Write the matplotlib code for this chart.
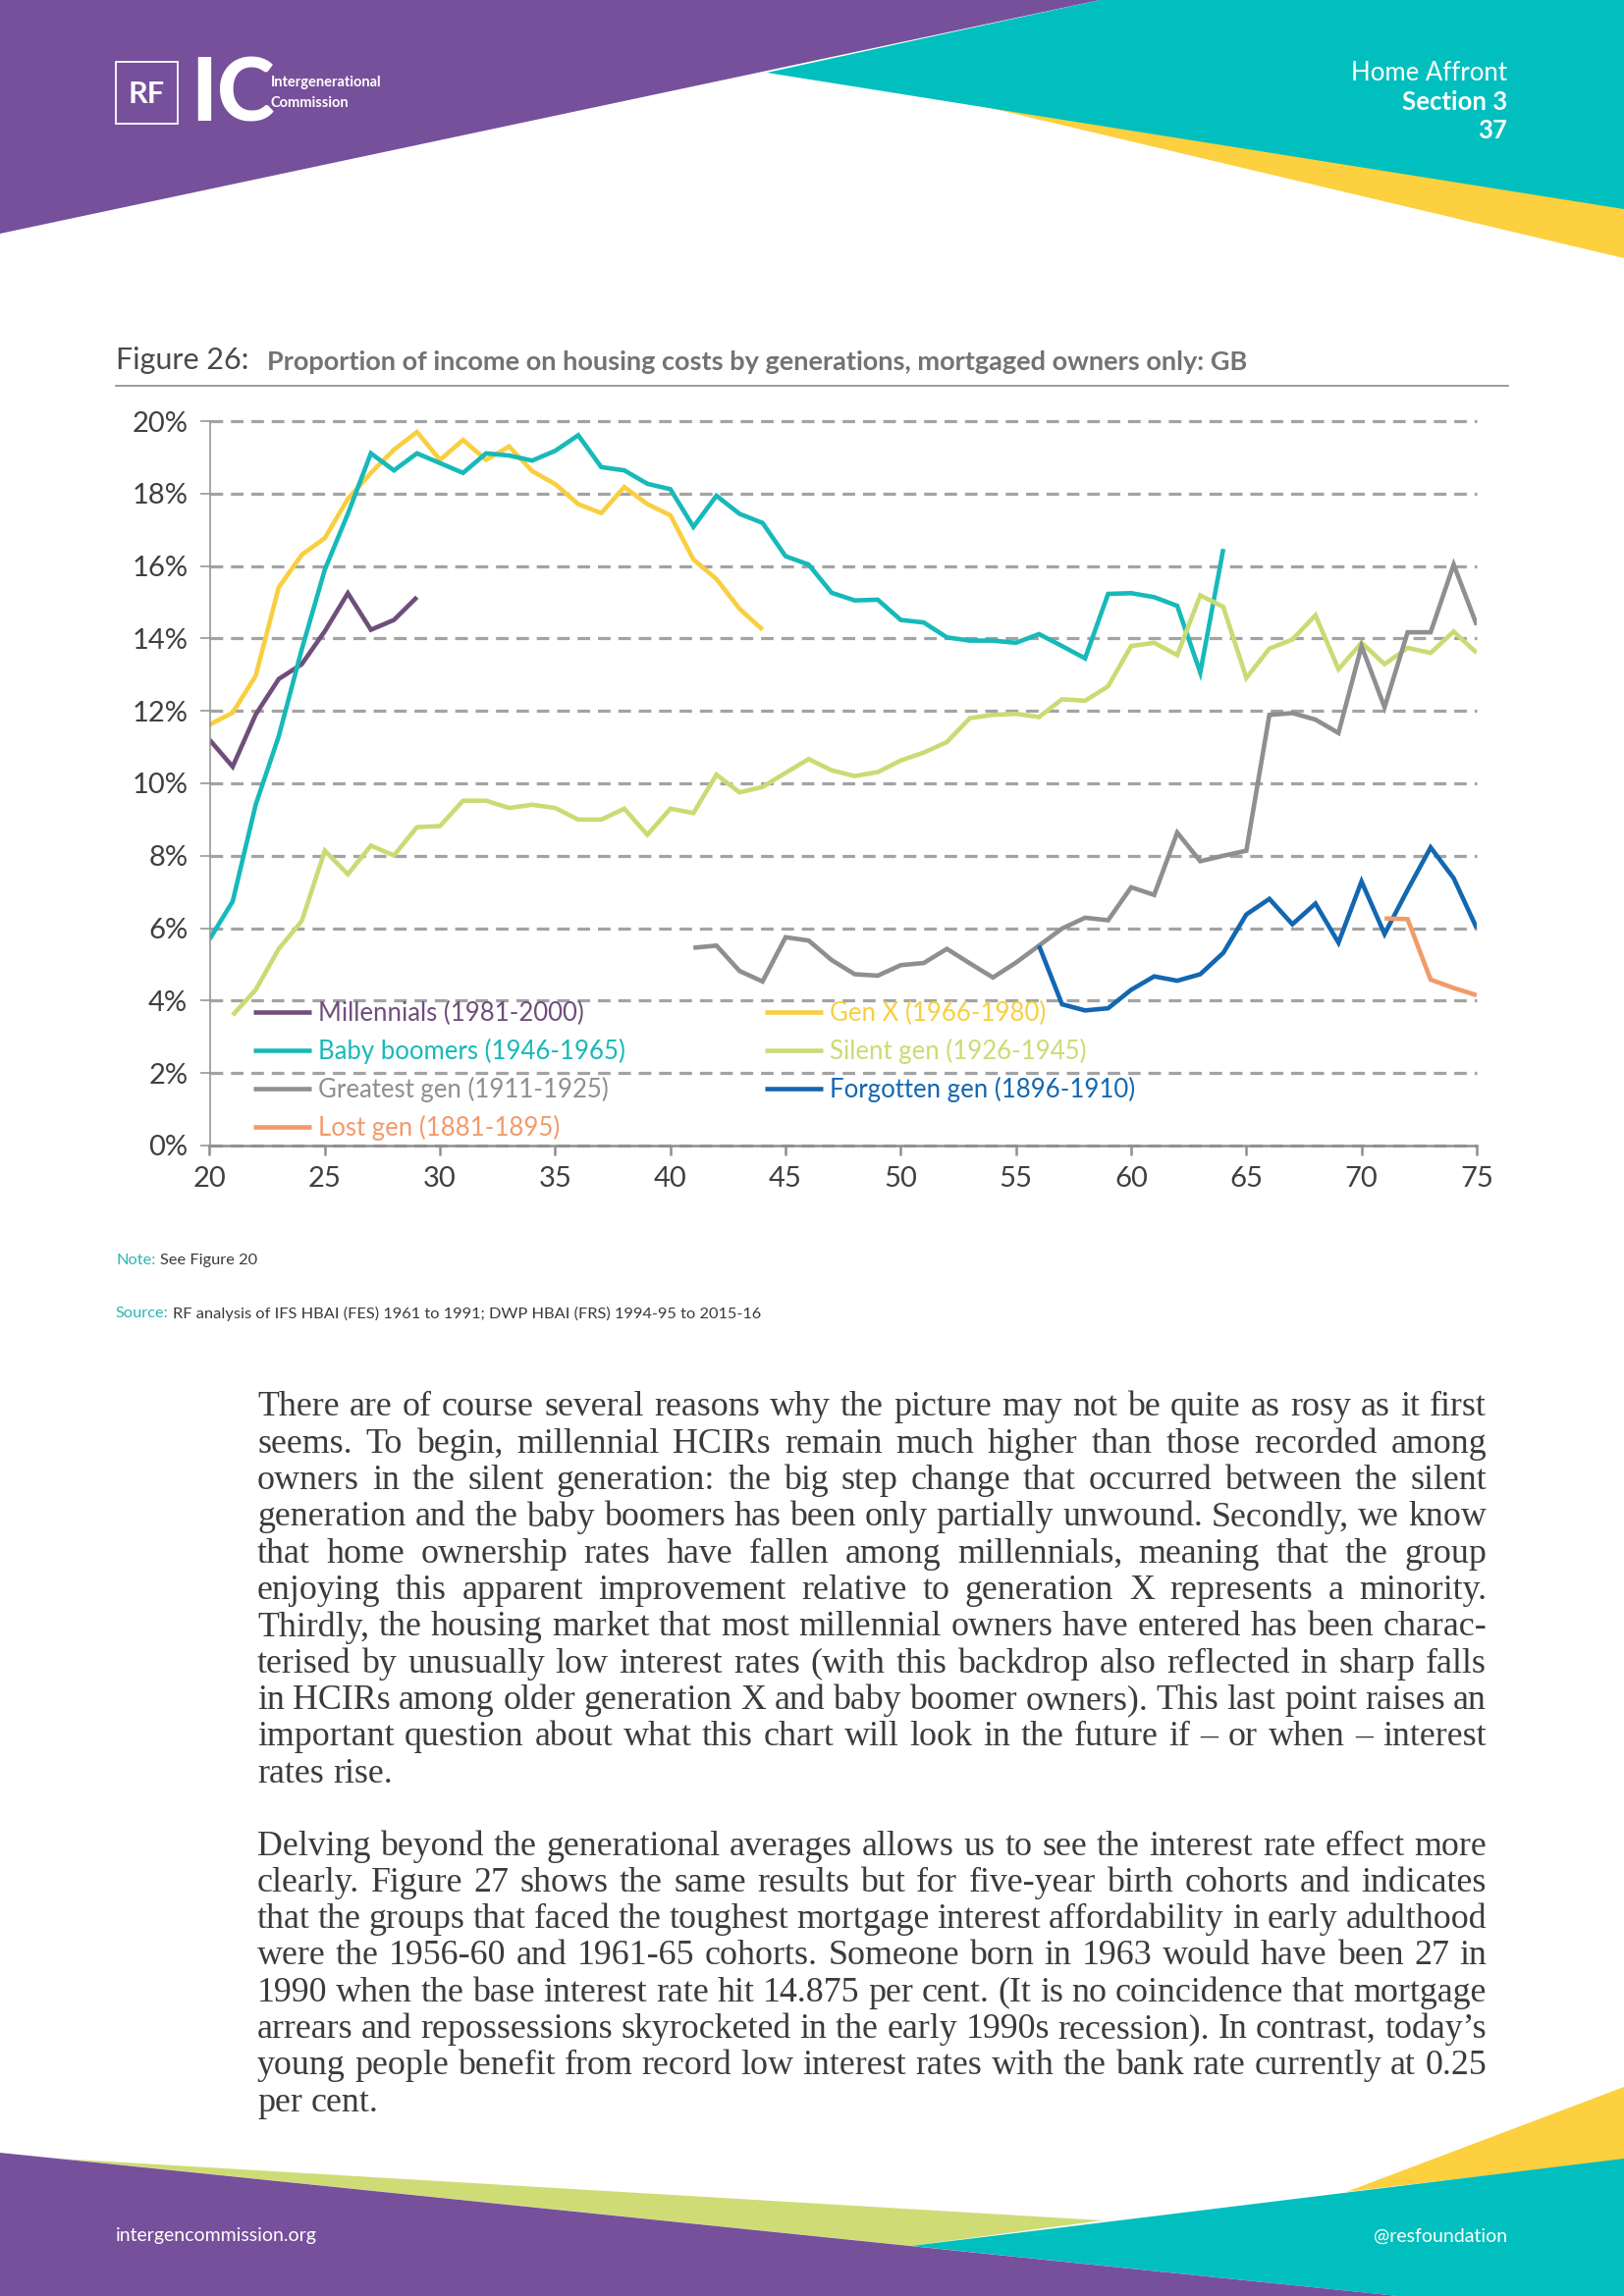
import matplotlib
matplotlib.use("Agg")
import matplotlib.pyplot as plt
from matplotlib.patches import Polygon, Rectangle

# ==========================
# DATA (share of income on housing costs, %)
# ==========================
millennials_age = list(range(20, 30))
millennials = [11.2, 10.46, 11.9, 12.88, 13.29, 14.2, 15.25, 14.24, 14.51, 15.14]

genx_age = list(range(20, 45))
genx = [11.62, 11.95, 12.97, 15.41, 16.31, 16.77, 17.85, 18.57, 19.21, 19.70,
        18.93, 19.48, 18.93, 19.30, 18.62, 18.26, 17.71, 17.46, 18.18, 17.71,
        17.40, 16.18, 15.64, 14.82, 14.24]

boomers_age = list(range(20, 65))
boomers = [5.70, 6.74, 9.41, 11.30, 13.70, 15.90, 17.44, 19.11, 18.64, 19.11,
           18.84, 18.57, 19.11, 19.05, 18.91, 19.18, 19.61, 18.73, 18.64, 18.27,
           18.12, 17.08, 17.94, 17.44, 17.19, 16.27, 16.04, 15.26, 15.05, 15.07,
           14.51, 14.44, 14.03, 13.94, 13.94, 13.88, 14.12, 13.79, 13.45, 15.23,
           15.25, 15.14, 14.90, 13.06, 16.47]

silent_age = list(range(21, 76))
silent = [3.60, 4.30, 5.43, 6.20, 8.14, 7.49, 8.28, 8.01, 8.79, 8.82,
          9.52, 9.52, 9.32, 9.41, 9.32, 9.00, 9.00, 9.30, 8.58, 9.30,
          9.18, 10.24, 9.75, 9.90, 10.29, 10.67, 10.36, 10.20, 10.31, 10.63,
          10.85, 11.14, 11.80, 11.89, 11.92, 11.83, 12.32, 12.28, 12.68, 13.79,
          13.88, 13.54, 15.19, 14.87, 12.91, 13.72, 13.97, 14.64, 13.15, 13.88,
          13.29, 13.74, 13.60, 14.19, 13.60]

greatest_age = list(range(41, 76))
greatest = [5.46, 5.52, 4.82, 4.53, 5.75, 5.66, 5.12, 4.73, 4.69, 4.98,
            5.04, 5.43, 5.03, 4.64, 5.05, 5.52, 5.99, 6.29, 6.22, 7.13,
            6.92, 8.64, 7.85, 8.00, 8.14, 11.89, 11.94, 11.76, 11.39, 13.79,
            12.10, 14.17, 14.17, 16.04, 14.37]

forgotten_age = list(range(56, 76))
forgotten = [5.52, 3.90, 3.73, 3.79, 4.30, 4.67, 4.55, 4.73, 5.32, 6.38,
             6.81, 6.11, 6.68, 5.60, 7.29, 5.84, 7.06, 8.23, 7.38, 6.00]

lost_age = list(range(71, 76))
lost = [6.27, 6.25, 4.58, 4.35, 4.15]

series = [
    ("Millennials (1981-2000)", millennials_age, millennials, "#6f4e7c"),
    ("Gen X (1966-1980)", genx_age, genx, "#f9cf3f"),
    ("Baby boomers (1946-1965)", boomers_age, boomers, "#17b9b9"),
    ("Silent gen (1926-1945)", silent_age, silent, "#c9dc74"),
    ("Greatest gen (1911-1925)", greatest_age, greatest, "#8e8f91"),
    ("Forgotten gen (1896-1910)", forgotten_age, forgotten, "#1367b1"),
    ("Lost gen (1881-1895)", lost_age, lost, "#f29a6a"),
]
col1 = ["Millennials (1981-2000)", "Baby boomers (1946-1965)",
        "Greatest gen (1911-1925)", "Lost gen (1881-1895)"]
col2 = ["Gen X (1966-1980)", "Silent gen (1926-1945)",
        "Forgotten gen (1896-1910)"]

x_ticks = [20, 25, 30, 35, 40, 45, 50, 55, 60, 65, 70, 75]
y_ticks = [0, 2, 4, 6, 8, 10, 12, 14, 16, 18, 20]

paragraph1 = [
    "There are of course several reasons why the picture may not be quite as rosy as it first",
    "seems. To begin, millennial HCIRs remain much higher than those recorded among",
    "owners in the silent generation: the big step change that occurred between the silent",
    "generation and the baby boomers has been only partially unwound. Secondly, we know",
    "that home ownership rates have fallen among millennials, meaning that the group",
    "enjoying this apparent improvement relative to generation X represents a minority.",
    "Thirdly, the housing market that most millennial owners have entered has been charac-",
    "terised by unusually low interest rates (with this backdrop also reflected in sharp falls",
    "in HCIRs among older generation X and baby boomer owners). This last point raises an",
    "important question about what this chart will look in the future if \u2013 or when \u2013 interest",
    "rates rise.",
]
paragraph2 = [
    "Delving beyond the generational averages allows us to see the interest rate effect more",
    "clearly. Figure 27 shows the same results but for five-year birth cohorts and indicates",
    "that the groups that faced the toughest mortgage interest affordability in early adulthood",
    "were the 1956-60 and 1961-65 cohorts. Someone born in 1963 would have been 27 in",
    "1990 when the base interest rate hit 14.875 per cent. (It is no coincidence that mortgage",
    "arrears and repossessions skyrocketed in the early 1990s recession). In contrast, today\u2019s",
    "young people benefit from record low interest rates with the bank rate currently at 0.25",
    "per cent.",
]

# ==========================
# PAGE
# ==========================
W, H = 1654, 2339
fig = plt.figure(figsize=(W / 100, H / 100), dpi=100)
plt.rcParams["font.family"] = ["Lato", "DejaVu Sans"]

PURPLE = "#77509b"
TEAL = "#00bfbe"
YELLOW = "#fcd03e"
LIME = "#cfdc76"

deco = fig.add_axes([0, 0, 1, 1], zorder=0)
deco.set_xlim(0, W)
deco.set_ylim(H, 0)
deco.axis("off")

# header shapes
deco.add_patch(Polygon([(1000, 108), (1654, 212), (1654, 263)], color=YELLOW, lw=0))
deco.add_patch(Polygon([(781, 74), (1120, 0), (1654, 0), (1654, 213)], color=TEAL, lw=0))
deco.add_patch(Polygon([(0, 0), (1120, 0), (0, 238)], color=PURPLE, lw=0))
# footer shapes
deco.add_patch(Polygon([(1371, 2233), (1654, 2126), (1654, 2200)], color=YELLOW, lw=0))
deco.add_patch(Polygon([(60, 2199), (1123, 2262), (928, 2288)], color=LIME, lw=0))
deco.add_patch(Polygon([(928, 2288), (1654, 2199), (1654, 2339), (1424, 2339)], color=TEAL, lw=0))
deco.add_patch(Polygon([(0, 2193), (1424, 2339), (0, 2339)], color=PURPLE, lw=0))

# logo
deco.add_patch(Rectangle((118, 63), 63, 63, fill=False, ec="white", lw=1.3))
deco.text(149.5, 96, "RF", color="white", fontsize=22, fontweight="bold",
          ha="center", va="center")
deco.text(194, 97, "IC", color="white", fontsize=64, fontweight="black",
          ha="left", va="center")
deco.text(276, 84, "Intergenerational", color="white", fontsize=10.5,
          fontweight="bold", ha="left", va="center")
deco.text(276, 105, "Commission", color="white", fontsize=10.5,
          fontweight="bold", ha="left", va="center")

deco.text(1535, 74, "Home Affront", color="white", fontsize=18.5,
          ha="right", va="center")
deco.text(1535, 104, "Section 3", color="white", fontsize=18.5,
          fontweight="bold", ha="right", va="center")
deco.text(1535, 133, "37", color="white", fontsize=18.5,
          fontweight="bold", ha="right", va="center")

deco.text(118, 2278, "intergencommission.org", color="white", fontsize=14,
          ha="left", va="center")
deco.text(1535, 2278, "@resfoundation", color="white", fontsize=14,
          ha="right", va="center")

# figure title
deco.text(118, 367, "Figure 26:", color="#4a4a4a", fontsize=22,
          ha="left", va="center")
deco.text(272, 369, "Proportion of income on housing costs by generations, "
          "mortgaged owners only: GB", color="#737373", fontsize=19.5,
          fontweight="bold", ha="left", va="center")
deco.plot([118, 1536], [393, 393], color="#8a8a8a", lw=1.2)

renderer = fig.canvas.get_renderer()


def text_width(s, **kw):
    t = deco.text(0, 0, s, **kw)
    w = t.get_window_extent(renderer).width
    t.remove()
    return w


# note and source
NOTE = dict(fontsize=11.8, ha="left", va="center")
for y, head, rest in [(1284, "Note:", "See Figure 20"),
                      (1338, "Source:", "RF analysis of IFS HBAI (FES) 1961 to 1991; "
                                        "DWP HBAI (FRS) 1994-95 to 2015-16")]:
    deco.text(118, y, head, color="#2bb5b5", **NOTE)
    off = text_width(head + " ", **NOTE)
    deco.text(118 + off, y, rest, color="#3a3a3a", **NOTE)

# ==========================
# BODY TEXT (justified)
# ==========================
X0, X1 = 262, 1514
base = dict(family="Liberation Serif", fontsize=20, color="#3b3b3b")
fit = 10.0
sp = text_width("a a", **base) - text_width("aa", **base)
for line in paragraph1[:-1] + paragraph2[:-1]:
    words = line.split(" ")
    natural = sum(text_width(w, **base) for w in words) + 0.9 * sp * (len(words) - 1)
    fit = min(fit, (X1 - X0) / natural)
BODY = dict(base, fontsize=20 * fit)
space_w = text_width("a a", **BODY) - text_width("aa", **BODY)


def draw_paragraph(lines, y0, pitch):
    for i, line in enumerate(lines):
        y = y0 + i * pitch
        words = line.split(" ")
        widths = [text_width(w, **BODY) for w in words]
        if i == len(lines) - 1 or len(words) == 1:
            gap = space_w
        else:
            gap = (X1 - X0 - sum(widths)) / (len(words) - 1)
        x = X0
        for w, ww in zip(words, widths):
            deco.text(x, y, w, ha="left", va="center", **BODY)
            x += ww + gap


draw_paragraph(paragraph1, 1434, 37.3)
draw_paragraph(paragraph2, 1881, 37.3)

# ==========================
# CHART
# ==========================
ax = fig.add_axes([213.5 / W, 1 - 1167 / H, (1504 - 213.5) / W, (1167 - 429) / H],
                  zorder=2)
ax.patch.set_alpha(0)

for label, ages, vals, color in series:
    ax.plot(ages, vals, color=color, lw=3.3, label=label,
            solid_joinstyle="miter", solid_capstyle="butt")

ax.set_xlim(20, 75)
ax.set_ylim(0, 20)
ax.set_xticks(x_ticks)
ax.set_yticks(y_ticks)
ax.set_yticklabels([f"{v}%" for v in y_ticks])

ax.yaxis.grid(True, color="#a3a3a3", lw=2.3, linestyle=(0, (4.0, 2.5)))
for gl in ax.get_ygridlines():
    gl.set_clip_on(False)
ax.set_axisbelow(True)

for s in ["top", "right"]:
    ax.spines[s].set_visible(False)
ax.spines["left"].set_color("#8e8e8e")
ax.spines["left"].set_linewidth(1.1)
ax.spines["bottom"].set_color("#8e8e8e")
ax.spines["bottom"].set_linewidth(1.8)

ax.tick_params(axis="y", length=7, width=1.1, color="#8e8e8e",
               labelsize=21, labelcolor="#3f3f3f", pad=9)
ax.tick_params(axis="x", length=7, width=1.8, color="#8e8e8e",
               labelsize=21, labelcolor="#3f3f3f", pad=8)

# ==========================
# LEGEND (two columns)
# ==========================
handles = {l.get_label(): l for l in ax.get_lines()}
colors = {s[0]: s[3] for s in series}


def make_legend(names, x_px):
    leg = ax.legend([handles[n] for n in names], names,
                    loc="upper left",
                    bbox_to_anchor=((x_px - 213.5) / (1504 - 213.5), (1167 - 1020) / 738),
                    frameon=False, fontsize=18.5, handlelength=2.3,
                    handletextpad=0.25, labelspacing=0.5, borderpad=0,
                    borderaxespad=0)
    for t in leg.get_texts():
        t.set_color(colors[t.get_text()])
    return leg


leg1 = make_legend(col1, 258)
ax.add_artist(leg1)
make_legend(col2, 779)

plt.savefig("out.png", dpi=100)
